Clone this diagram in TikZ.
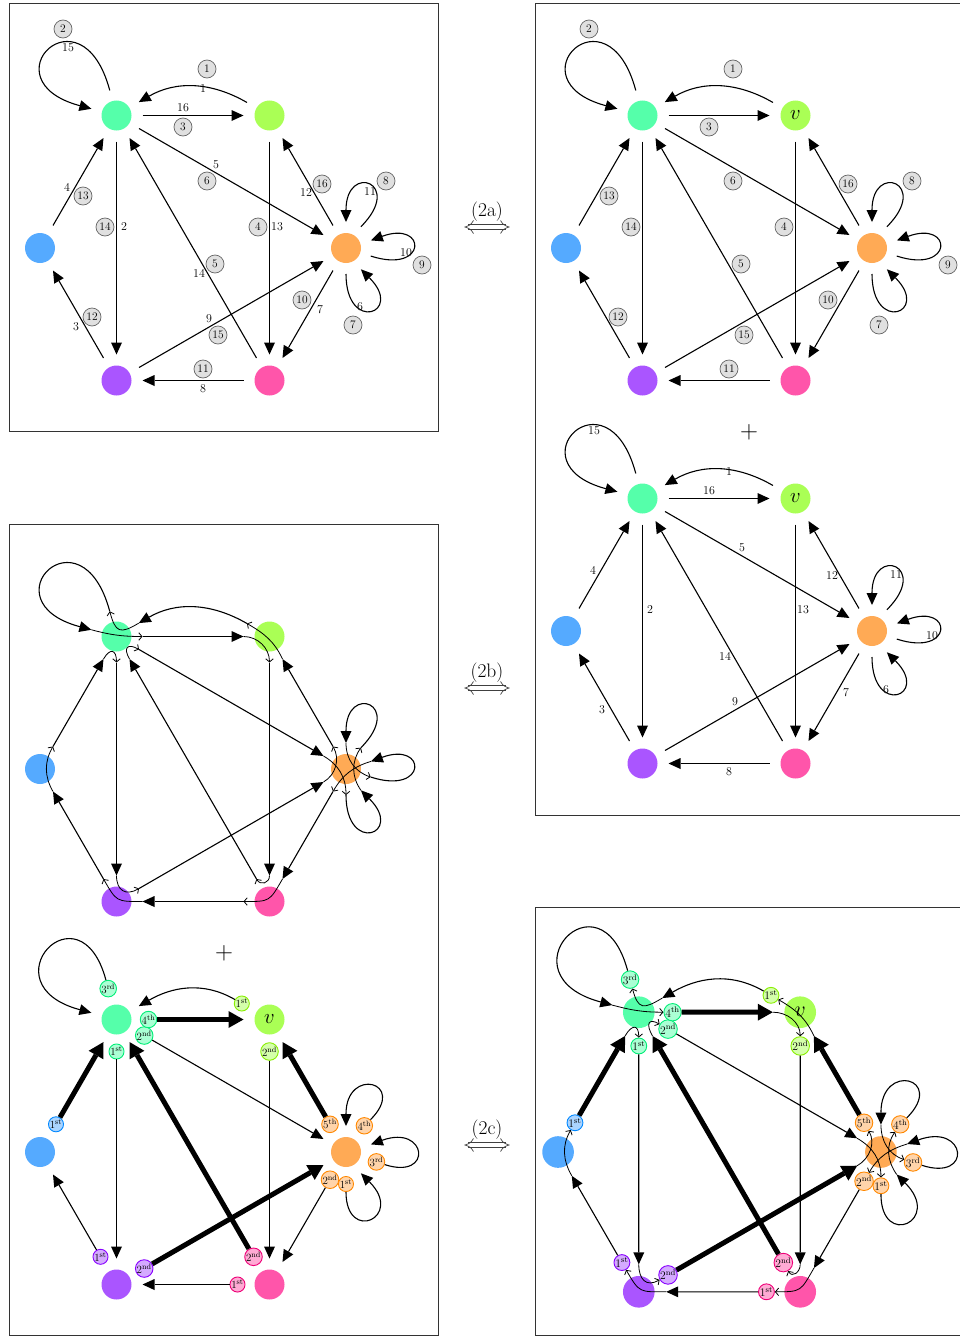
\documentclass[tikz,border=0pt]{standalone}
\usetikzlibrary{arrows.meta}
\definecolor{cA}{HTML}{55FFAA}
\definecolor{cB}{HTML}{AAFF55}
\definecolor{cC}{HTML}{55AAFF}
\definecolor{cD}{HTML}{FFAA55}
\definecolor{cE}{HTML}{AA55FF}
\definecolor{cF}{HTML}{FF55AA}
\definecolor{dA}{HTML}{00EE77}
\definecolor{dB}{HTML}{88EE00}
\definecolor{dC}{HTML}{0088FF}
\definecolor{dD}{HTML}{FF8800}
\definecolor{dE}{HTML}{8800FF}
\definecolor{dF}{HTML}{EE0077}

\newcommand\mkverts[2]{%
  \node[vtx=cA] (#1A) at (120:153) {};
  \node[vtx=cB, font=\fontsize{20}{20}\selectfont] (#1B) at (60:153) {#2};
  \node[vtx=cC] (#1C) at (180:153) {};
  \node[vtx=cD] (#1D) at (0:153) {};
  \node[vtx=cE] (#1E) at (240:153) {};
  \node[vtx=cF] (#1F) at (300:153) {};
}
\newcommand\mkstarts[1]{%
  \coordinate (#1oA1) at (#1A.-90);
  \coordinate (#1oA2) at (#1A.-30);
  \coordinate (#1oA3) at (#1A.105);
  \coordinate (#1oA4) at (#1A.0);
  \coordinate (#1oB1) at (#1B.150);
  \coordinate (#1oB2) at (#1B.-90);
  \coordinate (#1oC1) at (#1C.60);
  \coordinate (#1oD1) at (#1D.-90);
  \coordinate (#1oD2) at (#1D.240);
  \coordinate (#1oD3) at (#1D.-18);
  \coordinate (#1oD4) at (#1D.55);
  \coordinate (#1oD5) at (#1D.120);
  \coordinate (#1oE1) at (#1E.120);
  \coordinate (#1oE2) at (#1E.30);
  \coordinate (#1oF1) at (#1F.180);
  \coordinate (#1oF2) at (#1F.120);
}
\newcommand\mkords[1]{%
  \path (120:153) ++(-90:32) node[ord={cA}{dA}] (#1oA1) {1\textsuperscript{st}};
  \path (120:153) ++(-30:32) node[ord={cA}{dA}] (#1oA2) {2\textsuperscript{nd}};
  \path (120:153) ++(105:32) node[ord={cA}{dA}] (#1oA3) {3\textsuperscript{rd}};
  \path (120:153) ++(0:32) node[ord={cA}{dA}] (#1oA4) {4\textsuperscript{th}};
  \path (60:153) ++(150:32) node[ord={cB}{dB}] (#1oB1) {1\textsuperscript{st}};
  \path (60:153) ++(-90:32) node[ord={cB}{dB}] (#1oB2) {2\textsuperscript{nd}};
  \path (180:153) ++(60:32) node[ord={cC}{dC}] (#1oC1) {1\textsuperscript{st}};
  \path (0:153) ++(-90:32) node[ord={cD}{dD}] (#1oD1) {1\textsuperscript{st}};
  \path (0:153) ++(240:32) node[ord={cD}{dD}] (#1oD2) {2\textsuperscript{nd}};
  \path (0:153) ++(-18:32) node[ord={cD}{dD}] (#1oD3) {3\textsuperscript{rd}};
  \path (0:153) ++(55:32) node[ord={cD}{dD}] (#1oD4) {4\textsuperscript{th}};
  \path (0:153) ++(120:32) node[ord={cD}{dD}] (#1oD5) {5\textsuperscript{th}};
  \path (240:153) ++(120:32) node[ord={cE}{dE}] (#1oE1) {1\textsuperscript{st}};
  \path (240:153) ++(30:32) node[ord={cE}{dE}] (#1oE2) {2\textsuperscript{nd}};
  \path (300:153) ++(180:32) node[ord={cF}{dF}] (#1oF1) {1\textsuperscript{st}};
  \path (300:153) ++(120:32) node[ord={cF}{dF}] (#1oF2) {2\textsuperscript{nd}};
}
\newcommand\mkedges[2]{%
  \draw[arr] (#1oB1) to[out=150,in=30] (#1A.31);
  \draw[arr] (#1oA1) -- (#1E.90);
  \draw[arr] (#1oE1) -- (#1C.-60);
  \draw[#2] (#1oC1) -- (#1A.240);
  \draw[arr] (#1oA2) -- (#1D.150);
  \draw[arr] (#1oD1) .. controls +(-90:60) and +(-45:62) .. (#1D.-55);
  \draw[arr] (#1oD2) -- (#1F.60);
  \draw[arr] (#1oF1) -- (#1E.0);
  \draw[#2] (#1oE2) -- (#1D.210);
  \draw[arr] (#1oD3) .. controls +(-18:60) and +(20:60) .. (#1D.17);
  \draw[arr] (#1oD4) .. controls +(45:62) and +(90:60) .. (#1D.90);
  \draw[#2] (#1oD5) -- (#1B.-60);
  \draw[arr] (#1oB2) -- (#1F.90);
  \draw[#2] (#1oF2) -- (#1A.-60);
  \draw[arr] (#1oA3) .. controls +(105:110) and +(165:110) .. (#1A.165);
  \draw[#2] (#1oA4) -- (#1B.180);
}
\newcommand\mktrans[1]{%
  \draw[trn] (#1A.31) to[out=211,in=285,looseness=1.8] (#1oA3);
  \draw[trn] (#1A.165) to[out=-15,in=180] (#1oA4);
  \draw[trn] (#1A.240) to[out=60,in=90,looseness=2.5] (#1oA1);
  \draw[trn] (#1A.-60) to[out=120,in=150,looseness=2.5] (#1oA2);
  \draw[trn] (#1B.180) to[out=0,in=90] (#1oB2);
  \draw[trn] (#1B.-60) to[out=115,in=-30] (#1oB1);
  \draw[trn] (#1C.-60) to[out=120,in=240] (#1oC1);
  \draw[trn] (#1D.150) to[out=-30,in=90] (#1oD1);
  \draw[trn] (#1D.-55) to[out=125,in=235] (#1oD4);
  \draw[trn] (#1D.90) to[out=-90,in=162] (#1oD3);
  \draw[trn] (#1D.17) to[out=197,in=60] (#1oD2);
  \draw[trn] (#1D.210) to[out=30,in=300] (#1oD5);
  \draw[trn] (#1E.90) to[out=-90,in=210,looseness=1.5] (#1oE2);
  \draw[trn] (#1E.0) to[out=180,in=300,looseness=1.5] (#1oE1);
  \draw[trn] (#1F.90) to[out=-90,in=300,looseness=1.5] (#1oF2);
  \draw[trn] (#1F.60) to[out=240,in=0,looseness=1.5] (#1oF1);
}
\newcommand\mkplain[1]{%
  \node[ptxt] (#1n1) at (10,159) {1};
  \node[ptxt] (#1n2) at (-69,21) {2};
  \node[ptxt] (#1n3) at (-117,-79) {3};
  \node[ptxt] (#1n4) at (-126,61) {4};
  \node[ptxt] (#1n5) at (23,83) {5};
  \node[ptxt] (#1n6) at (167,-59) {6};
  \node[ptxt] (#1n7) at (127,-62) {7};
  \node[ptxt] (#1n8) at (10,-141) {8};
  \node[ptxt] (#1n9) at (16,-71) {9};
  \node[ptxt] (#1n10) at (213,-5) {10};
  \node[ptxt] (#1n11) at (177,56) {11};
  \node[ptxt] (#1n12) at (113,55) {12};
  \node[ptxt] (#1n13) at (84,21) {13};
  \node[ptxt] (#1n14) at (6,-25) {14};
  \node[ptxt] (#1n15) at (-125,200) {15};
  \node[ptxt] (#1n16) at (-10,140) {16};
}
\newcommand\mkcirc[1]{%
  \node[circ] (#1c1) at (14,179) {1};
  \node[circ] (#1c2) at (-130,219) {2};
  \node[circ] (#1c3) at (-10,121) {3};
  \node[circ] (#1c4) at (65,21) {4};
  \node[circ] (#1c5) at (22,-16) {5};
  \node[circ] (#1c6) at (14,67) {6};
  \node[circ] (#1c7) at (160,-77) {7};
  \node[circ] (#1c8) at (193,67) {8};
  \node[circ] (#1c9) at (229,-17) {9};
  \node[circ] (#1c10) at (109,-52) {10};
  \node[circ] (#1c11) at (10,-121) {11};
  \node[circ] (#1c12) at (-101,-69) {12};
  \node[circ] (#1c13) at (-110,52) {13};
  \node[circ] (#1c14) at (-88,21) {14};
  \node[circ] (#1c15) at (25,-87) {15};
  \node[circ] (#1c16) at (129,64) {16};
}
\newcommand\mkeqsym[2]{%
  \node[eqlbl] (#1l) at (487,#2+15) {(#1)};
  \draw[eqline] (468,#2+2.3) -- (506,#2+2.3);
  \draw[eqline] (468,#2-2.3) -- (506,#2-2.3);
  \draw[eqline] (473.5,#2+6.5) .. controls (470.5,#2+2) .. (465,#2) .. controls (470.5,#2-2) .. (473.5,#2-6.5);
  \draw[eqline] (500.5,#2+6.5) .. controls (503.5,#2+2) .. (509,#2) .. controls (503.5,#2-2) .. (500.5,#2-6.5);
}

\begin{document}
\begin{tikzpicture}[x=1pt,y=1pt,
  vtx/.style={circle, inner sep=0pt, minimum size=30pt, outer sep=11pt, fill=#1},
  arr/.style={line width=1.1pt, -{Triangle[length=12pt,width=11pt,line width=0pt]}},
  tarr/.style={line width=5pt, -{Triangle[length=15pt,width=17pt,line width=0pt]}},
  trn/.style={line width=0.8pt, -{Straight Barb[length=3.2pt,width=7.5pt]}},
  ptxt/.style={inner sep=0pt, font=\fontsize{12}{12}\selectfont},
  circ/.style={circle, draw=black!60, fill=black!12, line width=0.7pt, inner sep=0pt, minimum size=18pt, font=\fontsize{11.5}{11.5}\selectfont},
  ord/.style 2 args={circle, draw=#2, fill=#1!50!white, line width=0.9pt, inner sep=0pt, minimum size=15pt, font=\fontsize{11}{11}\selectfont},
  frm/.style={draw=black!80, line width=0.9pt},
  eqlbl/.style={inner sep=0pt, font=\fontsize{19.5}{19.5}\selectfont},
  eqline/.style={draw=black!75, line width=0.7pt},
  plus/.style={inner sep=0pt, font=\fontsize{30}{30}\selectfont}]
\useasboundingbox (0,0) rectangle (960,-1336);
\draw[frm] (9,-3) rectangle (438,-431);
\draw[frm] (535,-3) rectangle (985,-815);
\draw[frm] (9,-524) rectangle (438,-1335);
\draw[frm] (535,-907) rectangle (985,-1335);

\begin{scope}[shift={(193,-248)}]
  \mkverts{p}{}
  \mkstarts{p}
  \mkedges{p}{arr}
  \mkplain{p}
  \mkcirc{p}
\end{scope}

\begin{scope}[shift={(719,-248)}]
  \mkverts{q}{$v$}
  \mkstarts{q}
  \mkedges{q}{arr}
  \mkcirc{q}
\end{scope}
\node[plus] (plusA) at (749,-432) {$+$};
\begin{scope}[shift={(719,-631)}]
  \mkverts{r}{$v$}
  \mkstarts{r}
  \mkedges{r}{arr}
  \mkplain{r}
\end{scope}

\begin{scope}[shift={(193,-769)}]
  \mkverts{s}{}
  \mkstarts{s}
  \mkedges{s}{arr}
  \mktrans{s}
\end{scope}
\node[plus] (plusB) at (224,-953) {$+$};
\begin{scope}[shift={(193,-1152)}]
  \mkverts{t}{$v$}
  \mkords{t}
  \mkedges{t}{tarr}
\end{scope}

\begin{scope}[shift={(719.5,-1152)}, scale=1.055, transform shape]
  \mkverts{u}{$v$}
  \mkords{u}
  \mkedges{u}{tarr}
  \mktrans{u}
\end{scope}

\mkeqsym{2a}{-227}
\mkeqsym{2b}{-688}
\mkeqsym{2c}{-1145}
\end{tikzpicture}
\end{document}
